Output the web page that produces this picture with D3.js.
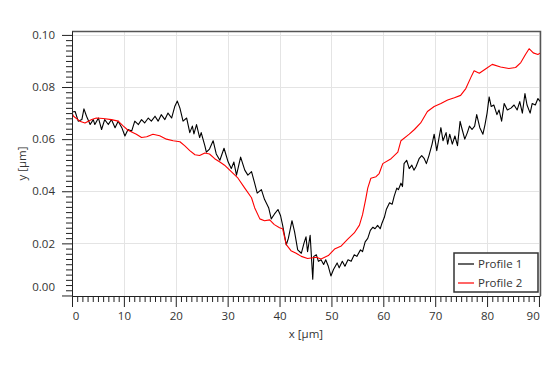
<!DOCTYPE html>
<head>
<meta charset="utf-8">
</head>
<style>
  body {
    margin: 0;
    font-family: 'Open Sans', sans-serif;
    background: #fff;
  }
  .tick text {
    fill: #333;
  }
</style>
<svg width="560" height="373"></svg>
<script src="https://d3js.org/d3.v7.min.js"></script>
<script>
// profile 1 (black, noisy)
var p1x = [0, 0.6, 1.2, 1.9, 2.3, 2.8, 3.5, 4.1, 4.4, 5.1, 5.7, 6.3, 7.0, 7.6, 8.3, 8.9, 9.6,
  10.2, 10.8, 11.5, 12.1, 12.8, 13.4, 14.0, 14.7, 15.3, 16.0, 16.6, 17.2, 17.9, 18.5, 19.2, 19.8,
  20.3, 20.8, 21.4, 22.1, 22.7, 23.2, 23.5, 24.0, 24.6, 24.9, 25.6, 25.9, 26.5, 27.2, 27.8, 28.5,
  29.3, 30.1, 30.7, 31.2, 31.7, 32.5, 33.3, 33.9, 34.6, 35.2, 35.7, 36.5, 37.1, 37.9, 38.4,
  39.0, 39.7, 40.2, 40.6, 41.3, 41.7, 42.4, 42.9, 43.5, 44.2, 44.7, 45.1, 45.4, 45.9, 46.2, 46.4,
  46.6, 47.1, 47.5, 48.0, 48.5, 48.9, 49.4, 49.9, 50.4, 51.1, 51.5, 52.1, 52.6, 53.2, 53.8, 54.4,
  54.9, 55.6, 56.0, 56.5, 57.0, 57.5, 58.0, 58.4, 58.9, 59.4, 59.7, 60.2, 60.6, 61.2, 61.7, 62.1,
  62.6, 62.9, 63.4, 63.7, 64.0, 64.5, 65.0, 65.5, 65.9, 66.3, 66.9, 67.4, 67.9, 68.3, 68.8, 69.4,
  69.8, 70.3, 70.8, 71.1, 71.5, 72.1, 72.4, 72.8, 73.3, 73.8, 74.3, 74.8, 75.2, 75.7, 76.2, 76.6,
  77.1, 77.6, 78.0, 78.6, 79.2, 79.6, 80.0, 80.4, 80.8, 81.3, 81.9, 82.3, 82.8, 83.3, 83.9, 84.6,
  85.2, 85.8, 86.3, 86.8, 87.3, 87.7, 88.3, 88.7, 89.3, 89.8, 90.2];
var p1y = [0.0704, 0.0706, 0.0669, 0.0675, 0.0716, 0.0688, 0.0656, 0.0675, 0.0656, 0.0681, 0.0637,
  0.0675, 0.0656, 0.0675, 0.0644, 0.0669, 0.0644, 0.0612, 0.0637, 0.0631, 0.0669, 0.0656, 0.0675,
  0.0662, 0.0681, 0.0669, 0.0688, 0.0669, 0.0694, 0.0675, 0.0700, 0.0681, 0.0725, 0.0746, 0.0719,
  0.0669, 0.0681, 0.0625, 0.0650, 0.0620, 0.0656, 0.0606, 0.0625, 0.0575, 0.0550, 0.0562, 0.0594,
  0.0543, 0.0519, 0.0565, 0.0512, 0.0487, 0.0512, 0.0462, 0.0531, 0.0481, 0.0462, 0.0475, 0.0431,
  0.0393, 0.0406, 0.0369, 0.0337, 0.0294,
  0.0312, 0.0330, 0.0306, 0.0269, 0.0194, 0.0219, 0.0287, 0.0244, 0.0175, 0.0162, 0.0200, 0.0225,
  0.0168, 0.0231, 0.0131, 0.0062, 0.0150, 0.0156, 0.0131, 0.0137, 0.0119, 0.0137, 0.0112, 0.0075,
  0.0100, 0.0125, 0.0106, 0.0131, 0.0112, 0.0137, 0.0131, 0.0156, 0.0150, 0.0175, 0.0168, 0.0206,
  0.0219, 0.0250, 0.0262, 0.0256, 0.0269, 0.0256, 0.0275, 0.0300, 0.0331, 0.0356, 0.0350, 0.0381,
  0.0412, 0.0406, 0.0431, 0.0418, 0.0506, 0.0519, 0.0487, 0.0500, 0.0481, 0.0494, 0.0525, 0.0537,
  0.0525, 0.0506, 0.0537, 0.0581, 0.0619, 0.0556, 0.0612, 0.0644, 0.0594, 0.0625, 0.0581, 0.0619,
  0.0581, 0.0612, 0.0575, 0.0668, 0.0637, 0.0600, 0.0625, 0.0650, 0.0637, 0.0650, 0.0694, 0.0644,
  0.0619, 0.0656, 0.0700, 0.0762, 0.0725, 0.0731, 0.0694, 0.0712, 0.0669, 0.0737, 0.0712, 0.0719,
  0.0731, 0.0712, 0.0744, 0.0700, 0.0775, 0.0731, 0.0700, 0.0737, 0.0731, 0.0756, 0.0745];

// profile 2 (red, smoother)
var p2x = [0, 0.3, 1.5, 2.5, 3.8, 4.7, 6.0, 7.6, 8.9, 9.9, 10.8, 12.4, 13.4, 14.4, 15.6, 16.9,
  18.2, 19.5, 20.8, 21.7, 22.7, 23.7, 24.6, 25.6, 26.5, 27.5, 28.5, 29.4, 30.7, 32.0, 33.3, 34.6,
  35.2, 36.2, 37.1, 38.1, 39.0, 40.0, 40.6, 41.3, 42.2, 43.2, 44.2, 45.4, 47.1, 48.0, 49.4, 50.6,
  51.9, 53.1, 54.4, 55.4, 56.0, 56.6, 57.0, 57.6, 58.6, 59.2, 59.9, 61.5, 62.8, 63.4, 65.0, 66.0,
  67.2, 68.5, 69.8, 71.1, 72.4, 73.7, 74.9, 75.9, 76.9, 77.5, 78.5, 79.7, 81.0, 82.6, 84.2, 85.5,
  86.5, 87.4, 88.1, 88.9, 89.8, 90.2];
var p2y = [0.0700, 0.0688, 0.0669, 0.0662, 0.0675, 0.0681, 0.0679, 0.0675, 0.0669, 0.0650, 0.0634,
  0.0619, 0.0606, 0.0609, 0.0619, 0.0613, 0.0600, 0.0594, 0.0590, 0.0575, 0.0556, 0.0540, 0.0537,
  0.0547, 0.0543, 0.0525, 0.0512, 0.0500, 0.0475, 0.0450, 0.0412, 0.0375, 0.0337, 0.0294, 0.0287,
  0.0290, 0.0272, 0.0260, 0.0256, 0.0195, 0.0172, 0.0162, 0.0150, 0.0142, 0.0147, 0.0140, 0.0153,
  0.0178, 0.0190, 0.0215, 0.0240, 0.0270, 0.0310, 0.0369, 0.0412, 0.0450, 0.0456, 0.0468, 0.0506,
  0.0525, 0.0550, 0.0594, 0.0619, 0.0637, 0.0662, 0.0706, 0.0725, 0.0737, 0.0750, 0.0759, 0.0768,
  0.0794, 0.0838, 0.0862, 0.0853, 0.0869, 0.0887, 0.0877, 0.0871, 0.0875, 0.0894, 0.0925, 0.0947,
  0.0931, 0.0925, 0.0930];

var xTicks = [0, 10, 20, 30, 40, 50, 60, 70, 80, 90];
var yTicks = [0, 0.02, 0.04, 0.06, 0.08, 0.10];
var seriesNames = ["Profile 1", "Profile 2"];
var seriesColors = ["#000000", "#ff0000"];

var svg = d3.select("svg"),
    plotLeft = 72, plotRight = 540, plotTop = 31, plotBottom = 296;

var x = d3.scaleLinear().domain([0, 90.2]).range([plotLeft, plotRight]);
var y = d3.scaleLinear().domain([-0.0002, 0.1015]).range([plotBottom, plotTop]);

// grid
var grid = svg.append("g").attr("stroke", "#e4e4e4").attr("stroke-width", 1);
grid.selectAll(".gx").data(xTicks.slice(1))
  .enter().append("line")
    .attr("x1", function(d) { return Math.round(x(d)) + 0.5; })
    .attr("x2", function(d) { return Math.round(x(d)) + 0.5; })
    .attr("y1", plotTop).attr("y2", plotBottom);
grid.selectAll(".gy").data(yTicks.slice(1))
  .enter().append("line")
    .attr("y1", function(d) { return Math.round(y(d)) + 0.5; })
    .attr("y2", function(d) { return Math.round(y(d)) + 0.5; })
    .attr("x1", plotLeft).attr("x2", plotRight);

// frame top / right
svg.append("path")
  .attr("d", "M" + plotLeft + "," + (plotTop + 0.5) + "H" + (plotRight + 0.5) + "V" + plotBottom)
  .attr("fill", "none")
  .attr("stroke", "#555")
  .attr("stroke-width", 1.5);

// curves
var line = d3.line()
  .x(function(d) { return x(d[0]); })
  .y(function(d) { return y(d[1]); });

var series = [d3.zip(p1x, p1y), d3.zip(p2x, p2y)];
svg.append("g").selectAll("path")
  .data(series)
  .enter().append("path")
    .attr("d", line)
    .attr("fill", "none")
    .attr("stroke", function(d, i) { return seriesColors[i]; })
    .attr("stroke-width", 1.1)
    .attr("stroke-linejoin", "round");

// minor ticks
var xMinor = d3.range(1, 91).filter(function(v) { return v % 10 !== 0; });
var yMinor = d3.range(1, 51).map(function(v) { return v * 0.002; }).filter(function(v, i) { return (i + 1) % 10 !== 0; });

svg.append("g")
    .attr("transform", "translate(0," + plotBottom + ")")
    .call(d3.axisBottom(x).tickValues(xMinor).tickSize(6).tickFormat(""))
    .call(function(g) { g.select(".domain").remove(); });

svg.append("g")
    .attr("transform", "translate(" + plotLeft + ",0)")
    .call(d3.axisLeft(y).tickValues(yMinor).tickSize(6).tickFormat(""))
    .call(function(g) { g.select(".domain").remove(); });

// major axes
var xAxis = svg.append("g")
    .attr("transform", "translate(0," + plotBottom + ")")
    .call(d3.axisBottom(x).tickValues(xTicks).tickSize(11).tickSizeOuter(0).tickPadding(5).tickFormat(d3.format("d")));

var yAxis = svg.append("g")
    .attr("transform", "translate(" + plotLeft + ",0)")
    .call(d3.axisLeft(y).tickValues(yTicks).tickSize(10).tickSizeOuter(0).tickPadding(7).tickFormat(d3.format(".2f")));

svg.selectAll(".domain, .tick line").attr("stroke", "#222");
svg.selectAll(".tick text")
  .attr("font-family", "'Open Sans', sans-serif")
  .attr("font-size", 11.5);

// keep the end labels inside the axis range
xAxis.selectAll(".tick text")
  .attr("dx", function(d) { return d === 0 ? "0.3em" : (d === 90 ? "-0.55em" : 0); });
yAxis.selectAll(".tick text")
  .attr("dy", function(d) { return d === 0 ? "-0.4em" : "0.32em"; });

// axis titles
svg.append("text")
  .attr("x", (plotLeft + plotRight) / 2)
  .attr("y", 338)
  .attr("text-anchor", "middle")
  .attr("font-size", 11.5)
  .attr("fill", "#333")
  .text("x [µm]");

svg.append("text")
  .attr("transform", "translate(26," + ((plotTop + plotBottom) / 2) + ") rotate(-90)")
  .attr("text-anchor", "middle")
  .attr("font-size", 11.5)
  .attr("fill", "#333")
  .text("y [µm]");

// legend
var legend = svg.append("g").attr("transform", "translate(454,253)");
legend.append("rect")
  .attr("width", 84)
  .attr("height", 39)
  .attr("fill", "#fff")
  .attr("stroke", "#333")
  .attr("stroke-width", 1.5);

var item = legend.selectAll(".item")
  .data(seriesNames)
  .enter().append("g")
    .attr("transform", function(d, i) { return "translate(0," + (11 + i * 19) + ")"; });

item.append("line")
  .attr("x1", 4).attr("x2", 20)
  .attr("stroke", function(d, i) { return seriesColors[i]; })
  .attr("stroke-width", 1.2);

item.append("text")
  .attr("x", 24)
  .attr("dy", "0.35em")
  .attr("font-size", 11.5)
  .attr("fill", "#333")
  .text(function(d) { return d; });
</script>
